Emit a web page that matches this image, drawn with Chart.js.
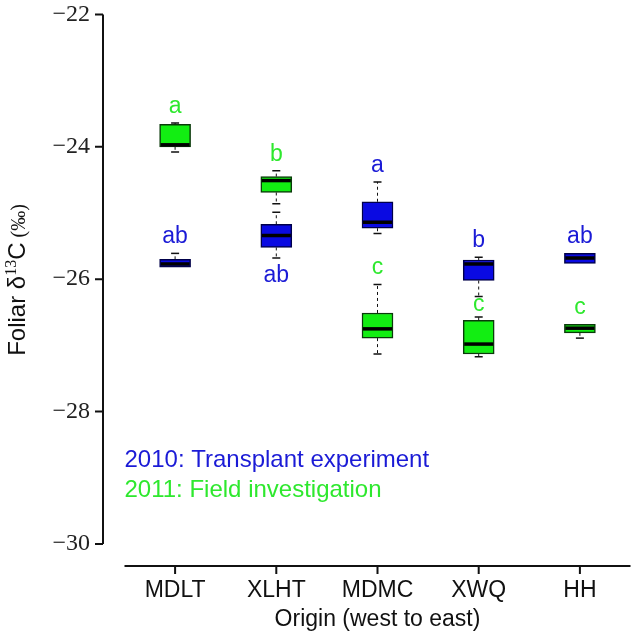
<!DOCTYPE html>
<html>
<head>
<meta charset="utf-8">
<script src="https://cdn.jsdelivr.net/npm/chart.js@4.4.0/dist/chart.umd.min.js"></script>
<style>
  html, body { margin: 0; padding: 0; background: #fff; }
</style>
</head>
<body>
<canvas id="chart" width="633" height="635"></canvas>
<script>
// Origins (west to east)
const origins = ['MDLT', 'XLHT', 'MDMC', 'XWQ', 'HH'];

// 2010: Transplant experiment -- box summaries
const min2010 = [-25.83, -25.68, -25.31, -26.26, -25.77];
const q1_2010 = [-25.82, -25.52, -25.23, -26.02, -25.76];
const med2010 = [-25.77, -25.34, -25.14, -25.77, -25.68];
const q3_2010 = [-25.70, -25.17, -24.83, -25.71, -25.61];
const max2010 = [-25.61, -24.99, -24.53, -25.67, -25.60];
const sig2010 = ['ab', 'ab', 'a', 'b', 'ab'];

// 2011: Field investigation
const min2011 = [-24.08, -24.86, -27.13, -27.17, -26.89];
const q1_2011 = [-24.00, -24.69, -26.89, -27.13, -26.81];
const med2011 = [-23.97, -24.51, -26.75, -26.98, -26.74];
const q3_2011 = [-23.66, -24.45, -26.51, -26.62, -26.68];
const max2011 = [-23.64, -24.36, -26.08, -26.57, -26.67];
const sig2011 = ['a', 'b', 'c', 'c', 'c'];

const seriesNames = ['2010: Transplant experiment', '2011: Field investigation'];
const yTicks = [-30, -28, -26, -24, -22];

// colours
const blueFill = '#0a0ae2';
const greenFill = '#12ee12';
const blueText = '#1b1bd6';
const greenText = '#2ee82e';
const sans = '"Liberation Sans", Arial, sans-serif';
const serif = '"Liberation Serif", "Times New Roman", serif';

const AXIS_GAP = 21.5;   // y axis line sits left of the plot, x axis below it

// whiskers, medians and letters on top of the floating bars
const boxParts = {
  id: 'boxParts',
  afterDatasetsDraw(chart) {
    const ctx = chart.ctx;
    const y = chart.scales.y;
    const groups = [
      {min: min2010, med: med2010, max: max2010, sig: sig2010, color: blueText},
      {min: min2011, med: med2011, max: max2011, sig: sig2011, color: greenText}
    ];
    ctx.save();
    groups.forEach((g, k) => {
      const meta = chart.getDatasetMeta(k);
      meta.data.forEach((bar, i) => {
        const cx = bar.x, half = bar.width / 2;
        const top = Math.min(bar.y, bar.base), bot = Math.max(bar.y, bar.base);
        const yMax = y.getPixelForValue(g.max[i]);
        const yMin = y.getPixelForValue(g.min[i]);
        ctx.strokeStyle = '#111';
        ctx.lineWidth = 1;
        ctx.setLineDash([3, 3]);
        ctx.beginPath();
        if (yMax < top - 1) { ctx.moveTo(cx, top); ctx.lineTo(cx, yMax); }
        if (yMin > bot + 1) { ctx.moveTo(cx, bot); ctx.lineTo(cx, yMin); }
        ctx.stroke();
        ctx.setLineDash([]);
        ctx.lineWidth = 1.5;
        ctx.beginPath();
        if (yMax < top - 1) { ctx.moveTo(cx - 4, yMax); ctx.lineTo(cx + 4, yMax); }
        if (yMin > bot + 1) { ctx.moveTo(cx - 4, yMin); ctx.lineTo(cx + 4, yMin); }
        ctx.stroke();
        // median
        const ym = y.getPixelForValue(g.med[i]);
        ctx.strokeStyle = '#000';
        ctx.lineWidth = 3.5;
        ctx.beginPath();
        ctx.moveTo(cx - half + 1, ym);
        ctx.lineTo(cx + half - 1, ym);
        ctx.stroke();
        // significance letter
        ctx.fillStyle = g.color;
        ctx.font = '23px ' + sans;
        ctx.textAlign = 'center';
        ctx.textBaseline = 'alphabetic';
        let below = false;
        if (k === 0 && min2011[i] > max2010[i] && min2011[i] - max2010[i] < 0.5) below = true;
        if (below) {
          ctx.fillText(g.sig[i], cx, yMin + 24);
        } else {
          let base = Math.min(yMax, top) - 10;
          // keep a 2011 letter clear of the 2010 whisker sitting just above it
          if (k === 1 && max2010[i] > max2011[i]) {
            base = Math.max(base, y.getPixelForValue(min2010[i]) + 15);
          }
          ctx.fillText(g.sig[i], cx, base);
        }
      });
    });
    ctx.restore();
  }
};

// detached axis lines, tick marks, y title and the text legend
const axesDecor = {
  id: 'axesDecor',
  afterDraw(chart) {
    const ctx = chart.ctx;
    const {x, y} = chart.scales;
    const area = chart.chartArea;
    const ax = area.left - AXIS_GAP;
    const ay = area.bottom + 22;
    ctx.save();
    ctx.strokeStyle = '#111';
    ctx.lineWidth = 2;
    ctx.beginPath();
    ctx.moveTo(ax, y.getPixelForValue(-22));
    ctx.lineTo(ax, y.getPixelForValue(-30));
    yTicks.forEach(v => {
      const py = y.getPixelForValue(v);
      ctx.moveTo(ax - 8, py);
      ctx.lineTo(ax, py);
    });
    ctx.moveTo(area.left, ay);
    ctx.lineTo(area.right, ay);
    origins.forEach((o, i) => {
      const px = x.getPixelForTick(i);
      ctx.moveTo(px, ay);
      ctx.lineTo(px, ay + 8);
    });
    ctx.stroke();

    // y title with superscript
    const parts = [
      {t: 'Foliar \u03B4', font: '24px ' + sans, dy: 0},
      {t: '13', font: '16px ' + serif, dy: -9},
      {t: 'C', font: '24px ' + sans, dy: 0},
      {t: ' (\u2030)', font: '20px ' + serif, dy: 0}
    ];
    let total = 0;
    parts.forEach(p => { ctx.font = p.font; p.w = ctx.measureText(p.t).width; total += p.w; });
    ctx.translate(25, 280);
    ctx.rotate(-Math.PI / 2);
    ctx.fillStyle = '#111';
    ctx.textAlign = 'left';
    ctx.textBaseline = 'alphabetic';
    let cur = -total / 2;
    parts.forEach(p => { ctx.font = p.font; ctx.fillText(p.t, cur, p.dy); cur += p.w; });
    ctx.setTransform(1, 0, 0, 1, 0, 0);

    // legend text
    ctx.font = '24px ' + sans;
    ctx.textAlign = 'left';
    ctx.fillStyle = blueText;
    ctx.fillText(seriesNames[0], area.left, y.getPixelForValue(-28.84));
    ctx.fillStyle = greenText;
    ctx.fillText(seriesNames[1], area.left, y.getPixelForValue(-29.29));
    ctx.restore();
  }
};

const data = {
  labels: origins,
  datasets: [
    {
      label: seriesNames[0],
      data: origins.map((o, i) => [q1_2010[i], q3_2010[i]]),
      backgroundColor: blueFill,
      borderColor: '#00004a',
      borderWidth: 1.5,
      borderSkipped: false
    },
    {
      label: seriesNames[1],
      data: origins.map((o, i) => [q1_2011[i], q3_2011[i]]),
      backgroundColor: greenFill,
      borderColor: '#0a3a0a',
      borderWidth: 1.5,
      borderSkipped: false
    }
  ]
};

const config = {
  type: 'bar',
  data: data,
  options: {
    responsive: false,
    animation: false,
    devicePixelRatio: 1,
    layout: { padding: { left: 0, right: 2.5, top: 12, bottom: 0 } },
    datasets: { bar: { grouped: false, barThickness: 31 } },
    plugins: {
      legend: { display: false },
      tooltip: { enabled: false }
    },
    scales: {
      x: {
        type: 'category',
        offset: true,
        grid: { display: false, drawTicks: true, tickLength: 33 },
        border: { display: false },
        ticks: { color: '#111', font: { family: sans, size: 23 }, padding: 0 },
        title: { display: true, text: 'Origin (west to east)', color: '#111',
                 font: { family: sans, size: 23 }, padding: { top: 0, bottom: 2 } },
        afterFit(s) { s.height = 91; }
      },
      y: {
        min: -30,
        max: -22,
        grid: { display: false, drawTicks: true, tickLength: 34.5 },
        border: { display: false },
        ticks: {
          stepSize: 2,
          color: '#222',
          font: { family: serif, size: 24 },
          padding: 0,
          callback: v => String(v).replace('-', '\u2212')
        },
        afterFit(s) { s.width = 124.5; }
      }
    }
  },
  plugins: [boxParts, axesDecor]
};

var myChart = new Chart(document.getElementById('chart'), config);
</script>
</body>
</html>
